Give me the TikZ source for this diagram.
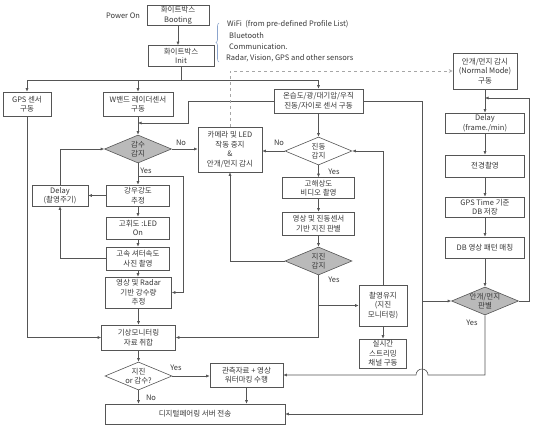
\documentclass[tikz,border=0pt]{standalone}
\usepackage{fontspec}
\setmainfont{Noto Sans CJK KR}
\usetikzlibrary{arrows.meta,shapes.geometric,decorations.pathreplacing}
\definecolor{linecol}{RGB}{85,85,85}
\definecolor{txtcol}{RGB}{55,55,55}
\definecolor{bracecol}{RGB}{140,165,205}
\tikzset{
	procbox/.style={draw=linecol, line width=0.6pt, fill=white, align=center, inner sep=1pt, text=txtcol, font=\fontsize{7.5}{9.5}\selectfont},
	decision/.style={diamond, draw=linecol, line width=0.6pt, align=center, inner sep=-0.5pt, shape aspect=2.4, minimum width=67, minimum height=28, text=txtcol, font=\fontsize{7.5}{9.5}\selectfont},
	decgray/.style={decision, fill=black!27},
	lab/.style={text=txtcol, inner sep=0pt, font=\fontsize{7.5}{9.5}\selectfont},
	ln/.style={draw=linecol, line width=0.6pt},
	arr/.style={draw=linecol, line width=0.6pt, -{Latex[length=3.5pt,width=3pt]}},
	dasharr/.style={draw=black!35, line width=0.5pt, dashed, -{Stealth[open,length=4pt,width=4pt]}}
}

\begin{document}
\begin{tikzpicture}[x=1pt,y=-1pt]
			%%%%% START %%%%%
			\useasboundingbox (0,0) rectangle (543,431);
			
			\node[lab] (power) at (123,16) {Power On};
			\node[procbox, minimum width=62, minimum height=19] (boot) at (178,15.5) {화이트박스\\Booting};
			\node[procbox, minimum width=66, minimum height=21] (init) at (181,56) {화이트박스\\Init};
			\draw[arr] (boot.south) -- (boot.south |- init.north);
			
			\draw[decorate, decoration={brace,amplitude=3pt}, draw=bracecol, line width=0.6pt] (219,62) -- (219,23);
			\node[lab, anchor=west] (wifi) at (227,24) {WiFi\ \ (from pre-defined Profile List)};
			\node[lab, anchor=west] (bt) at (229,36) {Bluetooth};
			\node[lab, anchor=west] (comm) at (229,47) {Communication.};
			\node[lab, anchor=west] (radtxt) at (226,58) {Radar, Vision, GPS and other sensors};
			
			\node[procbox, minimum width=48, minimum height=24] (gps) at (27,104) {GPS 센서\\구동};
			\node[procbox, minimum width=70, minimum height=24] (wband) at (138,104) {W밴드 레이더센서\\구동};
			\node[procbox, minimum width=89, minimum height=24] (sens) at (318.5,101) {온습도/광/대기압/우직\\진동/자이로 센서 구동};
			
			\coordinate (bus) at (init.south |- 0,80);
			\draw[ln] (init.south) -- (bus);
			\draw[arr] (bus) -| (gps.north);
			\draw[arr] (bus) -| (wband.north);
			\draw[arr] (bus) -| (sens.north);
			
			% rain
			\node[decgray] (rain) at (138,149) {감수\\감지};
			\node[procbox, minimum width=64, minimum height=45] (cam) at (230,149.5) {카메라 및 LED\\작동 중지\\\&\\안개/먼지 감시};
			\node[procbox, minimum width=63, minimum height=21] (rainint) at (138,195.5) {강우강도\\추정};
			\node[procbox, minimum width=56, minimum height=21] (delay) at (60,195.5) {Delay\\(촬영주기)};
			\node[procbox, minimum width=63, minimum height=22] (led) at (138,228) {고휘도 :LED\\On};
			\node[procbox, minimum width=63, minimum height=23] (shot) at (138,258.5) {고속 셔터속도\\사진 촬영};
			\node[procbox, minimum width=66, minimum height=31] (radar) at (138.5,292.5) {영상 및 Radar\\기반 강수량\\추정};
			\node[procbox, minimum width=74, minimum height=25] (weather) at (138.5,337.5) {기상모니터링\\자료 취합};
			
			\coordinate (sw1) at (188,123);
			\draw[arr] (sens.west) -| (sw1) -- (sw1 -| wband.south);
			\draw[arr] (wband.south) -- (rain.north);
			\draw[arr] (rain.east) -- (rain.east -| cam.west);
			\node[lab] (no1) at (181,143) {No};
			\draw[arr] (rain.south) -- (rainint.north);
			\node[lab] (yes1) at (146,171) {Yes};
			\coordinate (ry) at (183,176);
			\draw[arr] (rain.south |- ry) -- (ry) |- (radar.east);
			\draw[arr] (rainint.west) -- (delay.east);
			\draw[arr] (delay.north) |- (rain.west);
			\draw[arr] (rainint.south) -- (led.north);
			\draw[arr] (led.south) -- (shot.north);
			\draw[arr] (shot.south) -- (shot.south |- radar.north);
			\draw[arr] (shot.west) -| (delay.south);
			\draw[arr] (radar.south) -- (weather.north);
			\draw[arr] (gps.south) |- (weather.west);
			
			% quake
			\node[decision] (vib) at (318.5,151) {진동\\감지};
			\node[procbox, minimum width=72, minimum height=21] (hires) at (318.5,188) {고해상도\\비디오 촬영};
			\node[procbox, minimum width=72, minimum height=23] (qjudge) at (318.5,223.5) {영상 및 진동센서\\기반 지진 판별};
			\node[decgray] (quake) at (318.5,261) {지진\\감지};
			\node[procbox, minimum width=48, minimum height=41] (keep) at (383,305.5) {촬영유지\\(지진\\모니터링)};
			\node[procbox, minimum width=47, minimum height=29] (stream) at (383,353.5) {실시간\\스트리밍\\채널 구동};
			
			\draw[arr] (sens.south) -- (vib.north);
			\draw[arr] (vib.west) -- (vib.west -| cam.east);
			\node[lab] (no2) at (279,143) {No};
			\draw[arr] (vib.south) -- (hires.north);
			\node[lab] (yes2) at (334,172) {Yes};
			\draw[arr] (hires.south) -- (qjudge.north);
			\draw[arr] (qjudge.south) -- (quake.north);
			\draw[arr] (quake.west) -| (cam.south);
			\coordinate (qd) at (quake.south |- weather.east);
			\draw[arr] (quake.south) -- (qd) -- (weather.east);
			\draw[arr] (quake.south |- keep.west) -- (keep.west);
			\node[lab] (yes3) at (334,280) {Yes};
			\draw[arr] (keep.south) -- (stream.north);
			\draw[arr] (keep.north) |- (vib.east);
			
			% bottom
			\node[decision] (qr) at (138.5,376) {지진\\or 감수?};
			\node[procbox, minimum width=73, minimum height=24] (obs) at (246.5,375) {관측자료 + 영상\\워터마킹 수행};
			\node[procbox, minimum width=180, minimum height=20] (dt) at (195,414) {디지털페어링 서버 전송};
			
			\draw[arr] (weather.south) -- (qr.north);
			\draw[arr] (qr.east) -- (qr.east -| obs.west);
			\node[lab] (yes4) at (176,368) {Yes};
			\draw[arr] (qr.south) -- (qr.south |- dt.north);
			\node[lab] (no3) at (151,398) {No};
			\draw[arr] (obs.south) -- (obs.south |- dt.north);
			
			% fog
			\node[procbox, minimum width=64, minimum height=36] (fog) at (485,71) {안개/먼지 감시\\(Normal Mode)\\구동};
			\node[procbox, minimum width=79, minimum height=20] (fdelay) at (485,123) {Delay\\(frame./min)};
			\node[procbox, minimum width=79, minimum height=22] (scene) at (485,166) {전경촬영};
			\node[procbox, minimum width=79, minimum height=20] (gpsdb) at (485,207) {GPS Time 기준\\DB 저장};
			\node[procbox, minimum width=79, minimum height=21] (match) at (485,247.5) {DB 영상 패턴 매칭};
			\node[decgray] (fogj) at (485,301) {안개/먼지\\판별};
			
			\draw[dasharr] (cam.north) |- (fog.west);
			\draw[arr] (fog.south) -- (fdelay.north);
			\draw[arr] (fdelay.south) -- (scene.north);
			\draw[arr] (scene.south) -- (gpsdb.north);
			\draw[arr] (gpsdb.south) -- (match.north);
			\draw[arr] (match.south) -- (fogj.north);
			\coordinate (fr) at (529,98);
			\draw[arr] (fogj.east) -| (fr) -- (fr -| fog.south);
			
			\coordinate (vx) at (422,0);
			\draw[arr] (sens.east) -| (vx |- dt.east) -- (dt.east);
			\draw[arr] (vx |- fogj.west) -- (fogj.west);
			\coordinate (hop) at (428,375);
			\draw[arr] (fogj.south) |- (hop) arc (0:180:6pt) -- (obs.east);
			\node[lab] (yes5) at (472,323) {Yes};
			
			%%%%% END %%%%%
\end{tikzpicture}
\end{document}
